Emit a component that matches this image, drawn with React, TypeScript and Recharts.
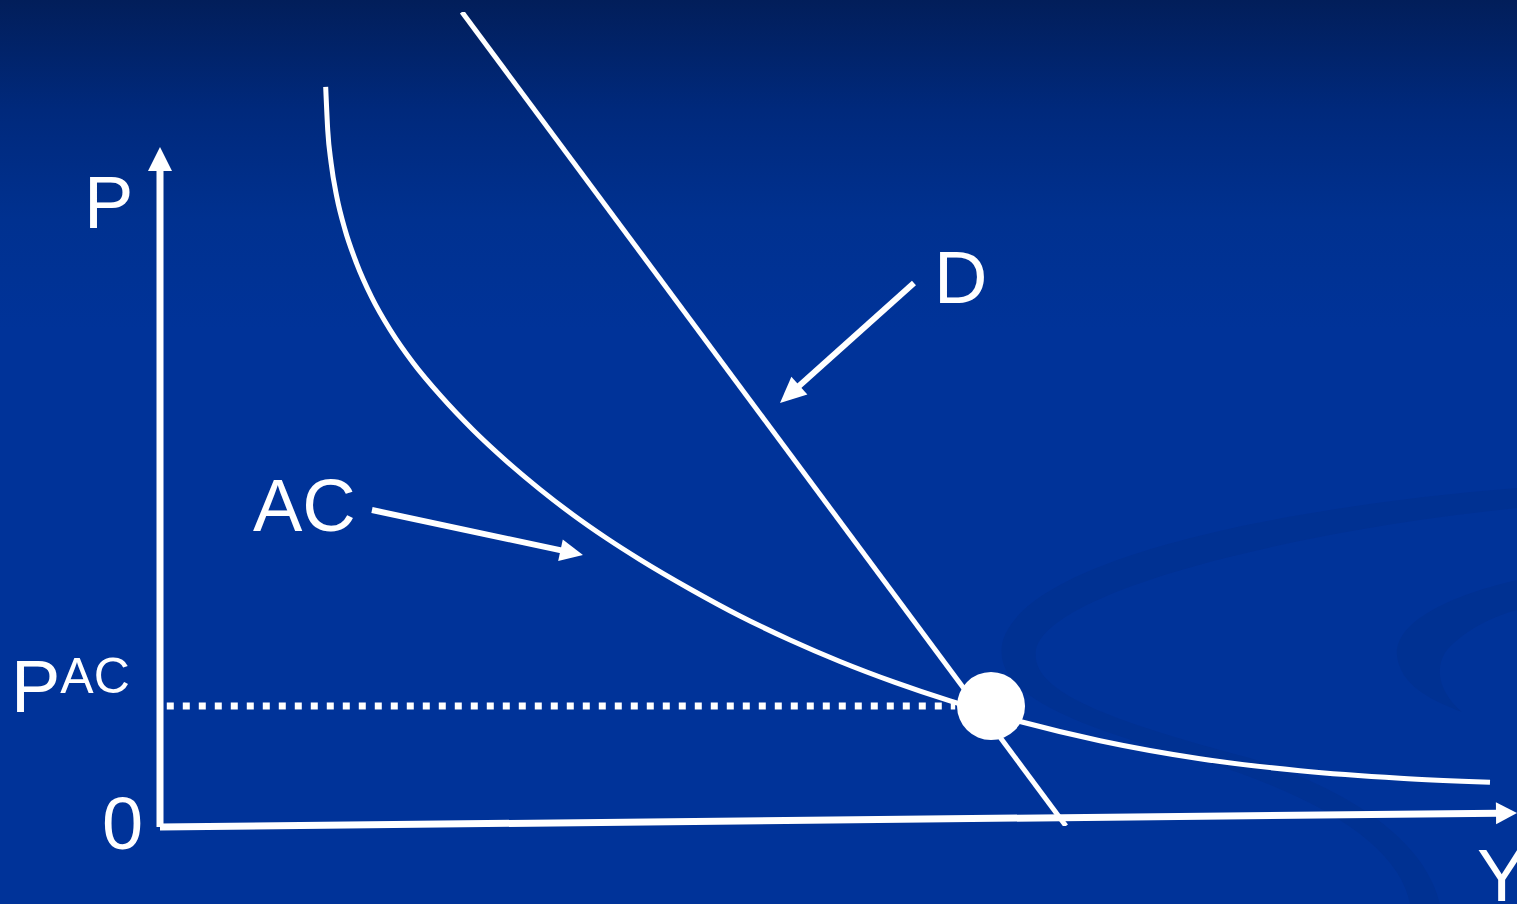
import React from "react"
import { ComposedChart, Line, XAxis, YAxis, ReferenceLine, ReferenceDot } from "recharts"

// AC curve (average cost)
const acCurve = [
  { x: 12.21, y: 90.79 },
  { x: 12.36, y: 85.5 },
  { x: 12.61, y: 81.45 },
  { x: 13.03, y: 77.27 },
  { x: 13.64, y: 73.22 },
  { x: 14.48, y: 69.16 },
  { x: 15.59, y: 64.99 },
  { x: 16.97, y: 60.93 },
  { x: 18.66, y: 56.88 },
  { x: 20.69, y: 52.83 },
  { x: 23.07, y: 48.65 },
  { x: 25.57, y: 44.77 },
  { x: 28.0, y: 41.36 },
  { x: 30.43, y: 38.24 },
  { x: 32.94, y: 35.32 },
  { x: 35.37, y: 32.73 },
  { x: 39.06, y: 29.12 },
  { x: 42.74, y: 25.8 },
  { x: 46.43, y: 22.85 },
  { x: 50.11, y: 20.21 },
  { x: 54.16, y: 17.64 },
  { x: 58.22, y: 15.36 },
  { x: 63.52, y: 12.78 },
  { x: 69.27, y: 10.48 },
  { x: 76.64, y: 8.27 },
  { x: 84.01, y: 6.79 },
  { x: 91.38, y: 5.87 },
  { x: 98.01, y: 5.37 },
]

// demand line D
const demand = [
  { x: 22.25, y: 100 },
  { x: 66.76, y: 0 },
]

// price where D meets AC
const pAC = 14.74
const equilibrium = { x: 61.24, y: pAC }
const priceLine = [
  { x: 0.5, y: pAC },
  { x: 58.6, y: pAC },
]

// axis and pointer arrows: [from, to]
const yAxisArrow = [{ x: 0, y: -0.12 }, { x: 0, y: 83.42 }]
const xAxisArrow = [{ x: 0, y: -0.12 }, { x: 100, y: 1.6 }]
const dPointer = [{ x: 55.56, y: 66.71 }, { x: 45.69, y: 51.97 }]
const acPointer = [{ x: 15.62, y: 38.82 }, { x: 31.17, y: 33.29 }]

const font = "'Liberation Sans', Arial, sans-serif"

const Arrow = (props: any) => {
  const { x1, y1, x2, y2, w = 6, head = 25, half = 12 } = props
  const dx = x2 - x1
  const dy = y2 - y1
  const len = Math.hypot(dx, dy)
  const ux = dx / len
  const uy = dy / len
  const bx = x2 - ux * head
  const by = y2 - uy * head
  const nx = -uy
  const ny = ux
  return (
    <g>
      <line x1={x1} y1={y1} x2={bx + ux * 2} y2={by + uy * 2} stroke="#fff" strokeWidth={w} />
      <polygon
        points={`${x2},${y2} ${bx + nx * half},${by + ny * half} ${bx - nx * half},${by - ny * half}`}
        fill="#fff"
      />
    </g>
  )
}

export default function App() {
  return (
    <div
      style={{
        position: "absolute",
        left: 0,
        top: 0,
        width: 1517,
        height: 904,
        overflow: "hidden",
        background: "linear-gradient(to bottom, #021e5a 0px, #00297c 110px, #003190 220px, #003399 330px, #003399 100%)",
      }}
    >
      {/* faint swirl from the slide template */}
      <svg width={1517} height={904} style={{ position: "absolute", left: 0, top: 0 }}>
        <path
          d="M1517,488 C1300,505 1030,555 1003,640 C990,690 1060,722 1200,760 C1330,800 1400,850 1410,904 L1440,904 C1425,840 1350,790 1250,758 C1100,718 1030,690 1036,650 C1048,590 1300,530 1517,508 Z"
          fill="#003192"
        />
        <path
          d="M1517,580 C1440,598 1395,625 1397,655 C1400,685 1430,700 1462,712 C1442,695 1432,670 1447,650 C1467,628 1495,616 1517,610 Z"
          fill="#003192"
        />
      </svg>
      <div style={{ position: "absolute", left: 0, top: 0 }}>
        <ComposedChart width={1517} height={904} margin={{ top: 12, right: 0, bottom: 78, left: 160 }}>
          <XAxis type="number" dataKey="x" domain={[0, 100]} hide allowDataOverflow />
          <YAxis type="number" dataKey="y" domain={[0, 100]} hide allowDataOverflow />

          <ReferenceLine segment={yAxisArrow} ifOverflow="visible" shape={(p: any) => <Arrow {...p} w={7} head={24} half={12} />} />
          <ReferenceLine segment={xAxisArrow} ifOverflow="visible" shape={(p: any) => <Arrow {...p} w={7} head={21} half={11} />} />

          <Line
            data={priceLine}
            dataKey="y"
            type="linear"
            stroke="#fff"
            strokeWidth={7}
            strokeDasharray="7 9"
            dot={false}
            activeDot={false}
            isAnimationActive={false}
          />
          <Line
            data={acCurve}
            dataKey="y"
            type="monotone"
            stroke="#fff"
            strokeWidth={5}
            dot={false}
            activeDot={false}
            isAnimationActive={false}
          />
          <Line
            data={demand}
            dataKey="y"
            type="linear"
            stroke="#fff"
            strokeWidth={5}
            dot={false}
            activeDot={false}
            isAnimationActive={false}
          />
          <ReferenceDot x={equilibrium.x} y={equilibrium.y} r={34} fill="#fff" stroke="none" ifOverflow="visible" />

          <ReferenceLine segment={dPointer} ifOverflow="visible" shape={(p: any) => <Arrow {...p} w={6} head={26} half={12} />} />
          <ReferenceLine segment={acPointer} ifOverflow="visible" shape={(p: any) => <Arrow {...p} w={6} head={23} half={11} />} />

          <text x={84} y={228} fill="#fff" fontSize={74} fontFamily={font}>P</text>
          <text x={934} y={303} fill="#fff" fontSize={74} fontFamily={font}>D</text>
          <text x={253} y={531} fill="#fff" fontSize={74} fontFamily={font}>AC</text>
          <text x={11} y={712} fill="#fff" fontFamily={font}>
            <tspan fontSize={74}>P</tspan>
            <tspan fontSize={50} dy={-19}>AC</tspan>
          </text>
          <text x={102} y={849} fill="#fff" fontSize={74} fontFamily={font}>0</text>
          <text x={1477} y={901} fill="#fff" fontSize={74} fontFamily={font}>Y</text>
        </ComposedChart>
      </div>
    </div>
  )
}
